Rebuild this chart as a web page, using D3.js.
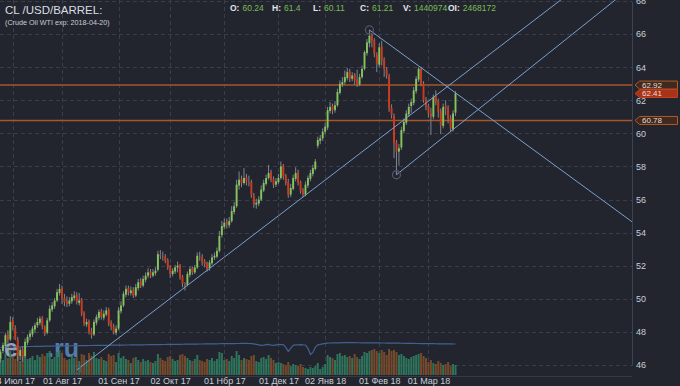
<!DOCTYPE html>
<html><head><meta charset="utf-8">
<script src="https://cdn.jsdelivr.net/npm/d3@7"></script>
<style>html,body{margin:0;padding:0;background:#22252d;overflow:hidden}svg{display:block}</style>
</head><body><svg id="c" width="680" height="386"></svg>
<script>
// ---------- DATA ----------
const firstDay = "2017-06-26";
const holidays = ["2017-07-03","2017-12-25","2017-12-26","2018-01-01"];
const opens = [46.40,46.85,47.15,47.85,47.55,48.70,48.25,47.55,46.55,46.95,
46.55,47.35,47.70,47.85,48.15,48.40,48.55,48.85,48.30,47.95,
48.70,49.35,49.55,49.90,50.35,50.65,50.05,49.85,49.70,49.85,
50.05,50.25,49.75,49.95,49.15,48.45,48.65,48.05,47.85,48.55,
48.85,49.25,48.85,49.05,49.35,48.55,48.35,47.95,48.20,49.25,
49.60,50.25,50.65,50.35,50.55,50.20,50.65,51.05,50.80,51.15,
51.40,51.65,51.40,51.55,51.75,52.65,52.55,52.55,52.35,51.95,
51.50,51.65,51.90,52.05,51.35,50.85,50.85,51.45,51.85,51.60,
51.90,52.55,52.50,52.25,52.15,51.85,52.15,52.50,52.55,52.90,
53.85,54.35,54.65,54.45,54.70,55.25,55.60,56.85,57.25,57.00,
57.35,57.05,57.05,56.25,55.70,55.75,56.00,56.55,56.95,57.30,
57.65,57.25,56.90,57.05,57.30,58.05,57.45,57.05,56.30,56.65,
57.25,57.65,57.05,56.55,56.30,56.85,57.25,57.55,57.85,59.25,
59.55,59.70,60.10,60.35,61.35,61.65,61.40,61.70,62.45,62.95,
63.10,63.35,63.75,63.30,63.55,63.25,62.95,63.40,63.90,64.85,
65.45,65.95,65.65,64.75,64.15,65.25,64.45,63.85,63.45,61.55,
61.05,59.45,58.90,59.15,60.15,60.65,61.15,61.65,61.85,62.55,
63.25,63.90,63.00,62.05,61.65,61.20,61.00,62.25,61.95,61.35,
60.45,61.65,61.55,60.95,60.24,61.25];
const highs = [46.95,47.35,47.95,48.10,48.95,48.90,48.40,47.70,47.05,47.10,
47.60,47.85,48.10,48.35,48.55,48.85,48.95,48.95,48.40,48.85,
49.60,49.80,50.05,50.60,50.90,50.80,50.30,50.15,50.10,50.30,
50.45,50.40,50.35,50.05,49.25,48.80,48.75,48.25,48.75,49.05,
49.35,49.40,49.30,49.50,49.45,48.70,48.50,48.40,49.50,49.85,
50.45,50.80,50.80,50.75,50.70,50.90,51.20,51.25,51.40,51.60,
51.85,51.80,51.80,51.90,52.90,52.95,52.85,52.70,52.45,52.05,
51.85,52.05,52.25,52.10,51.45,51.00,51.65,51.95,51.95,52.05,
52.80,52.85,52.70,52.40,52.25,52.35,52.70,52.80,53.10,54.10,
54.70,54.85,54.85,54.95,55.60,55.85,57.20,57.70,57.45,57.90,
57.55,57.45,57.20,56.40,56.05,56.20,56.85,57.20,57.50,58.10,
57.80,57.40,57.30,57.55,58.30,58.15,57.55,57.25,56.95,57.50,
57.95,57.80,57.15,56.70,57.10,57.45,57.80,58.10,58.45,59.80,
59.90,60.30,60.65,61.60,61.90,61.80,61.95,62.70,63.20,63.40,
63.80,63.95,63.90,63.70,63.65,63.85,63.60,64.10,65.00,65.70,
66.25,66.05,65.75,64.90,65.45,65.60,64.60,64.00,63.60,61.75,
61.20,59.60,59.35,60.40,60.90,61.40,61.80,62.10,62.80,63.45,
64.00,64.00,63.15,62.20,61.80,61.55,62.35,62.60,62.10,61.50,
61.80,62.00,61.70,61.10,61.40,62.55];
const lows = [46.15,46.70,47.00,47.30,47.45,48.10,47.50,46.25,46.30,46.20,
46.45,47.20,47.50,47.70,47.95,48.25,48.40,48.15,47.75,47.85,
48.60,49.20,49.40,49.80,50.20,49.70,49.55,49.50,49.55,49.70,
49.90,49.65,49.60,48.95,48.35,48.30,47.85,47.60,47.75,48.40,
48.70,48.75,48.70,48.95,48.35,48.10,47.85,47.80,48.10,49.10,
49.50,50.10,50.20,50.20,50.05,50.10,50.50,50.65,50.70,51.00,
51.25,51.25,51.30,51.40,51.65,52.40,52.30,52.15,51.75,51.25,
51.35,51.50,51.60,51.15,50.70,50.50,50.75,51.30,51.45,51.50,
51.80,52.30,52.00,51.90,51.65,51.70,52.05,52.35,52.45,52.80,
53.70,54.20,54.25,54.30,54.60,55.10,55.50,56.60,56.75,56.90,
56.85,56.80,56.10,55.50,55.45,55.60,55.90,56.45,56.85,57.20,
57.05,56.70,56.75,56.95,57.20,57.20,56.85,56.10,56.15,56.55,
57.10,56.85,56.35,56.15,56.20,56.70,57.10,57.40,57.75,59.10,
59.35,59.55,59.95,60.20,61.20,61.15,61.25,61.60,62.35,62.80,
62.95,63.20,63.10,63.15,62.95,62.80,62.85,63.30,63.80,64.70,
65.20,65.20,64.60,63.70,64.00,64.10,63.40,63.30,61.30,60.90,
58.50,57.50,58.05,59.00,60.00,60.50,61.00,61.25,61.70,62.40,
63.10,62.85,61.85,61.40,60.95,59.90,60.85,61.70,60.95,59.95,
60.30,61.10,60.60,60.10,60.11,61.05];
const closes = [46.80,47.20,47.80,47.50,48.60,48.30,47.60,46.60,46.90,46.50,
47.40,47.70,47.90,48.20,48.40,48.60,48.80,48.30,47.90,48.70,
49.40,49.60,49.90,50.40,50.60,50.00,49.80,49.70,49.90,50.10,
50.20,49.80,49.90,49.10,48.50,48.60,48.00,47.80,48.60,48.90,
49.20,48.90,49.10,49.30,48.50,48.30,48.00,48.20,49.30,49.60,
50.30,50.60,50.40,50.50,50.20,50.70,51.00,50.80,51.20,51.40,
51.60,51.40,51.60,51.70,52.70,52.60,52.50,52.30,51.90,51.50,
51.70,51.90,52.00,51.30,50.90,50.80,51.50,51.80,51.60,51.90,
52.60,52.50,52.20,52.10,51.80,52.20,52.50,52.60,52.90,53.80,
54.40,54.60,54.50,54.70,55.30,55.60,56.90,57.20,57.00,57.30,
57.10,57.00,56.30,55.70,55.80,56.00,56.60,57.00,57.30,57.60,
57.20,56.90,57.10,57.30,58.00,57.40,57.00,56.30,56.70,57.30,
57.60,57.00,56.50,56.30,56.90,57.30,57.60,57.90,58.30,59.60,
59.70,60.10,60.40,61.40,61.60,61.40,61.70,62.50,63.00,63.10,
63.40,63.70,63.30,63.50,63.20,63.00,63.40,63.90,64.90,65.50,
65.90,65.60,64.80,64.20,65.20,64.40,63.90,63.50,61.50,61.10,
59.40,58.90,59.10,60.20,60.70,61.20,61.60,61.90,62.60,63.30,
63.90,63.00,62.00,61.60,61.20,61.00,62.20,61.90,61.30,60.50,
61.60,61.50,60.90,60.30,61.21,62.41];
const volumes = [180,150,210,170,240,190,160,230,140,200,
210,160,170,190,150,200,180,210,190,220,
240,160,180,230,250,220,170,150,160,190,
170,180,140,210,200,150,220,190,230,170,
160,180,150,140,210,190,200,130,220,170,
190,160,150,120,170,180,150,130,160,140,
150,130,120,140,210,170,150,140,180,190,
160,140,150,200,210,190,170,150,140,160,
200,150,140,130,160,150,170,140,160,230,
220,150,160,140,190,170,240,200,150,170,
160,150,190,200,140,130,170,180,160,200,
170,150,120,130,120,110,100,130,90,110,
100,90,110,80,70,60,80,70,90,120,
60,80,110,200,180,170,150,210,220,190,
200,180,190,170,210,180,160,190,230,220,
240,250,260,240,220,250,230,200,260,240,
250,230,200,210,190,170,160,180,190,200,
210,220,190,170,130,150,120,110,140,120,
100,110,130,90,110,100];
const openInterest = [2400,2402,2404,2405,2406,2408,2410,2410,2412,2414,
2415,2416,2418,2418,2420,2421,2422,2422,2424,2425,
2426,2426,2428,2428,2430,2430,2431,2432,2432,2433,
2434,2434,2435,2436,2436,2437,2438,2438,2439,2440,
2440,2441,2442,2442,2443,2444,2444,2445,2446,2446,
2447,2448,2448,2449,2450,2450,2451,2452,2452,2453,
2454,2454,2455,2456,2456,2457,2458,2458,2459,2460,
2460,2461,2462,2462,2463,2464,2464,2465,2466,2466,
2467,2468,2468,2469,2470,2470,2471,2472,2472,2473,
2474,2474,2475,2476,2476,2477,2478,2478,2479,2480,
2480,2478,2476,2470,2460,2450,2440,2445,2455,2460,
2445,2440,2450,2455,2455,2455,2400,2320,2380,2440,
2450,2452,2455,2450,2448,2380,2260,2300,2400,2450,
2460,2470,2480,2485,2488,2490,2490,2492,2492,2494,
2494,2495,2495,2494,2494,2493,2493,2492,2492,2491,
2491,2490,2490,2489,2489,2488,2488,2487,2486,2486,
2485,2484,2484,2483,2482,2482,2481,2480,2479,2478,
2478,2477,2476,2476,2475,2474,2474,2473,2472,2472,
2471,2470,2470,2469,2468,2468];
const monthTicks = [["2017-07-04","04 Июл 17"],["2017-08-01","01 Авг 17"],["2017-09-01","01 Сен 17"],
  ["2017-10-02","02 Окт 17"],["2017-11-01","01 Нбр 17"],["2017-12-01","01 Дек 17"],
  ["2018-01-02","02 Янв 18"],["2018-02-01","01 Фев 18"],["2018-03-01","01 Мар 18"]];
const priceTicks = [46,48,50,52,54,56,58,60,62,64,66,68];
const levelLines = [62.92, 60.78];
const lastPrice = 62.41;
// trend lines: [start date, start price, through date, through price]
const trendLines = [
  ["2017-08-09",45.70,"2018-03-16",63.20],
  ["2018-02-12",57.50,"2018-03-16",60.35],
  ["2018-01-26",66.25,"2018-03-16",62.45]
];
const header = {title:"CL /USD/BARREL:", sub:"(Crude Oil WTI exp: 2018-04-20)"};
const headerItems = [["O:","60.24"],["H:","61.4"],["L:","60.11"],["C:","61.21"],["V:","1440974"],["OI:","2468172"]];

// ---------- BUILD ----------
const FONT = "Liberation Sans, Arial, sans-serif";
const fmt = d3.utcFormat("%Y-%m-%d");
const days = d3.utcDay.range(new Date(firstDay+"T00:00:00Z"), new Date("2018-06-01T00:00:00Z"))
  .filter(d => d.getUTCDay()!==0 && d.getUTCDay()!==6 && !holidays.includes(fmt(d)))
  .slice(0, closes.length).map(fmt);
const idx = s => days.indexOf(s);

const W = 680, H = 386, plotR = 632, plotB = 376;
const svg = d3.select("#c");
svg.append("rect").attr("width",W).attr("height",H).attr("fill","#22252d");

const x = d3.scaleLinear().domain([0, closes.length-1]).range([0.5, 455.5]);
const y = d3.scaleLinear().domain([46, 68]).range([365, 1]);
const yv = d3.scaleLinear().domain([0, 330]).range([375, 342]);
const yoi = d3.scaleLinear().domain([2000, 2600]).range([367.4, 337.4]);

svg.append("clipPath").attr("id","clip").append("rect").attr("x",0).attr("y",0).attr("width",plotR).attr("height",plotB);

// grid
const grid = svg.append("g");
grid.selectAll("line.h").data(priceTicks).join("line")
  .attr("x1",0).attr("x2",plotR).attr("y1",d=>Math.round(y(d))+0.5).attr("y2",d=>Math.round(y(d))+0.5)
  .attr("stroke","#393e4a").attr("stroke-dasharray","4,3");
grid.selectAll("line.v").data(monthTicks).join("line")
  .attr("x1",d=>Math.round(x(idx(d[0])))+0.5).attr("x2",d=>Math.round(x(idx(d[0])))+0.5)
  .attr("y1",0).attr("y2",plotB).attr("stroke","#393e4a").attr("stroke-dasharray","4,3");

// watermark
svg.append("text").attr("x",4).attr("y",357).text("e").attr("font-family",FONT)
  .attr("font-size",25).attr("font-weight","bold").attr("fill","#c9d6ea").attr("opacity",0.7);
svg.append("text").attr("x",47).attr("y",357).text(".ru").attr("font-family",FONT)
  .attr("font-size",25).attr("font-weight","bold").attr("fill","#5b8cc4").attr("opacity",0.85);

// volume
const data = closes.map((c,i)=>({i,o:opens[i],h:highs[i],l:lows[i],c,v:volumes[i],oi:openInterest[i]}));
svg.append("g").selectAll("rect").data(data).join("rect")
  .attr("x",d=>x(d.i)-1).attr("width",2)
  .attr("y",d=>yv(d.v)).attr("height",d=>yv(0)-yv(d.v))
  .attr("fill",d=>d.c>=d.o?"#30795f":"#7d4d2d").attr("opacity",0.92);
svg.append("path").datum(data).attr("fill","none").attr("stroke","#40618f").attr("stroke-width",1.2)
  .attr("d", d3.line().x(d=>x(d.i)).y(d=>yoi(d.oi)));

// level lines
const pg = svg.append("g").attr("clip-path","url(#clip)");
pg.selectAll("line.lv").data(levelLines).join("line")
  .attr("x1",0).attr("x2",plotR).attr("y1",d=>y(d)).attr("y2",d=>y(d))
  .attr("stroke","#a6562b").attr("stroke-width",1.6);

// candles
const cg = pg.append("g");
cg.selectAll("line.w").data(data).join("line")
  .attr("x1",d=>x(d.i)).attr("x2",d=>x(d.i)).attr("y1",d=>y(d.h)).attr("y2",d=>y(d.l))
  .attr("stroke","#80858f").attr("stroke-width",1);
cg.selectAll("rect").data(data).join("rect")
  .attr("x",d=>x(d.i)-0.95).attr("width",1.9)
  .attr("y",d=>y(Math.max(d.o,d.c))).attr("height",d=>Math.max(0.8, Math.abs(y(d.o)-y(d.c))))
  .attr("fill",d=>d.c>=d.o?"#84c55c":"#cf3a1c");

// trend lines (rays)
const tl = trendLines.map(t=>{
  const x1=x(idx(t[0])), y1=y(t[1]), x2=x(idx(t[2])), y2=y(t[3]);
  return {x1,y1,x3:x1+(x2-x1)*20,y3:y1+(y2-y1)*20};
});
pg.selectAll("line.t").data(tl).join("line")
  .attr("x1",d=>d.x1).attr("y1",d=>d.y1).attr("x2",d=>d.x3).attr("y2",d=>d.y3)
  .attr("stroke","#7b9fd0").attr("stroke-width",1);
pg.selectAll("circle").data(tl).join("circle")
  .attr("cx",d=>d.x1).attr("cy",d=>d.y1).attr("r",4)
  .attr("fill","none").attr("stroke","#4f5666").attr("stroke-width",1.3);

// axes
const yAxis = d3.axisRight(y).tickValues(priceTicks).tickSize(0).tickPadding(4).tickFormat(d3.format("d"));
const ya = svg.append("g").attr("transform",`translate(${plotR},0)`).call(yAxis);
ya.select(".domain").attr("stroke","#3d4352");
ya.selectAll("text").attr("fill","#c9ced8").attr("font-size",9).attr("font-family",FONT);

svg.append("line").attr("x1",0).attr("x2",plotR).attr("y1",plotB+0.5).attr("y2",plotB+0.5).attr("stroke","#353a46");

const xAxis = d3.axisBottom(x).tickValues(monthTicks.map(m=>idx(m[0])))
  .tickFormat((d,i)=>monthTicks[i][1]).tickSize(0).tickPadding(0);
const xa = svg.append("g").attr("transform",`translate(0,${plotB})`).call(xAxis);
xa.select(".domain").remove();
xa.selectAll("text").attr("fill","#c9ced8").attr("font-size",9).attr("dy","0.9em").attr("font-family",FONT);

// price tags
const tags = [[levelLines[0],"#3e2a20","#b45a26"],[lastPrice,"#a8331b","#c2421f"],[levelLines[1],"#3e2a20","#b45a26"]];
const tg = svg.append("g");
tags.forEach(([v,fill,stroke])=>{
  const cy=y(v);
  tg.append("path").attr("d",`M635,${cy} L639.5,${cy-4} L677.5,${cy-4} L677.5,${cy+4} L639.5,${cy+4} Z`)
    .attr("fill",fill).attr("stroke",stroke).attr("stroke-width",1);
  tg.append("text").attr("x",642).attr("y",cy+2.8).text(d3.format(".2f")(v))
    .attr("fill","#ecdcd2").attr("font-size",8).attr("font-family",FONT);
});

// header
svg.append("text").attr("x",5).attr("y",14).text(header.title).attr("fill","#d9dde5")
  .attr("font-size",11.5).attr("font-family",FONT);
svg.append("text").attr("x",5).attr("y",25).text(header.sub).attr("fill","#c9cdd6")
  .attr("font-size",7.2).attr("font-family",FONT);
const hx = [230,272,313,360,403,448];
const hg = svg.append("g").attr("font-size",8.5).attr("font-family",FONT);
headerItems.forEach((it,i)=>{
  const t = hg.append("text").attr("x",hx[i]).attr("y",11);
  t.append("tspan").attr("fill","#e3e6ec").attr("font-weight","bold").text(it[0]);
  t.append("tspan").attr("dx",3).attr("fill","#79bd57").text(it[1]);
});
</script></body></html>
